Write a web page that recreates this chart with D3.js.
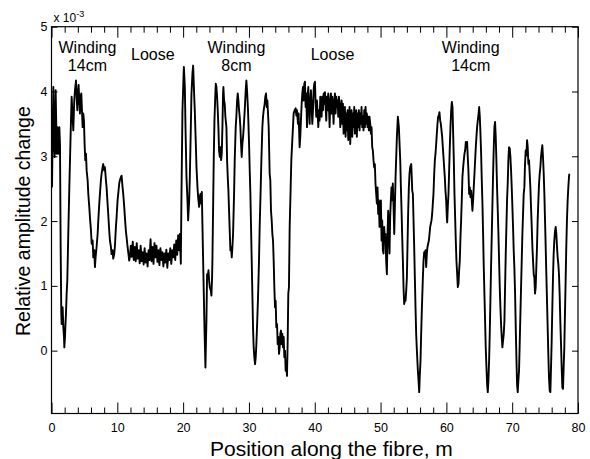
<!DOCTYPE html>
<html>
<head>
<meta charset="utf-8">
<script src="https://cdn.jsdelivr.net/npm/d3@7"></script>
<style>
body { margin: 0; background: #fff; }
text { font-family: "Liberation Sans", Arial, Helvetica, sans-serif; fill: #000; }
.tick line { stroke: #000; }
</style>
</head>
<body>
<div id="amplitude-chart"></div>
<script>
// measured trace, [position (m), amplitude change (x 1e-3)]
var winding14a = [[0.08,2.52],[0.18,3.45],[0.28,4.07],[0.38,3.19],[0.48,2.99],[0.58,3.71],[0.63,4.02],[0.73,3.45],[0.78,3.04],[0.89,3.45],[0.99,3.19],[1.04,3.04],[1.14,3.35],[1.19,3.45],[1.29,3.19],[1.39,1.60],[1.49,0.57],[1.54,0.41],[1.64,0.57],[1.69,0.67],[1.80,0.36],[1.90,0.21],[1.95,0.05],[2.05,0.21],[2.10,0.36],[2.20,0.57],[2.30,0.88],[2.40,1.08],[2.55,1.80],[2.71,2.52],[2.81,2.94],[2.96,3.55],[3.06,3.92],[3.16,3.71],[3.31,3.40],[3.46,3.86],[3.57,4.02],[3.72,4.17],[3.82,3.92],[3.92,3.71],[4.02,3.97],[4.12,4.10],[4.22,3.86],[4.32,3.66],[4.42,3.92],[4.53,3.97],[4.63,3.71],[4.73,3.45],[4.83,3.66],[4.93,3.55],[5.03,3.19],[5.13,2.94],[5.24,3.04],[5.34,2.78],[5.49,2.63],[5.59,2.42],[5.74,2.22],[5.84,2.06],[6.00,1.85],[6.10,1.65],[6.25,1.70],[6.35,1.44],[6.50,1.55],[6.60,1.29],[6.70,1.44],[6.85,1.60],[7.01,1.80],[7.11,2.01],[7.26,2.27],[7.36,2.42],[7.51,2.63],[7.61,2.73],[7.76,2.83],[7.86,2.88],[8.02,2.78],[8.12,2.83],[8.27,2.63],[8.37,2.52],[8.52,2.27],[8.62,2.11],[8.77,1.85],[8.88,1.70],[9.03,1.60],[9.13,1.49],[9.28,1.55],[9.38,1.42],[9.53,1.49],[9.63,1.60],[9.79,1.91],[9.89,2.06],[10.04,2.32],[10.14,2.42],[10.29,2.58],[10.39,2.63],[10.55,2.68],[10.65,2.70],[10.80,2.52],[10.90,2.42],[11.05,2.22],[11.15,2.06],[11.30,1.85],[11.41,1.75],[11.56,1.60],[11.66,1.52],[11.81,1.39],[11.91,1.44]];

var loose1 = [[12.05,1.62],[12.2,1.45],[12.35,1.68],[12.5,1.40],[12.65,1.60],[12.8,1.38],[12.95,1.66],[13.1,1.42],[13.25,1.55],[13.4,1.35],[13.55,1.62],[13.7,1.38],[13.85,1.52],[14.0,1.33],[14.15,1.58],[14.3,1.36],[14.45,1.50],[14.6,1.30],[14.75,1.55],[14.9,1.40],[15.05,1.72],[15.2,1.38],[15.35,1.60],[15.5,1.34],[15.65,1.66],[15.8,1.44],[15.95,1.62],[16.1,1.37],[16.25,1.55],[16.4,1.32],[16.55,1.58],[16.7,1.40],[16.85,1.52],[17.0,1.30],[17.15,1.50],[17.3,1.36],[17.45,1.56],[17.6,1.28],[17.75,1.50],[17.9,1.40],[18.05,1.58],[18.2,1.34],[18.35,1.55],[18.5,1.44],[18.65,1.64],[18.8,1.40],[18.95,1.70],[19.1,1.48],[19.25,1.78],[19.4,1.55],[19.5,1.80]];

var winding8 = [[19.65,1.34],[19.75,2.42],[19.90,3.71],[20.11,4.38],[20.26,4.07],[20.36,3.45],[20.51,2.68],[20.66,2.32],[20.76,2.01],[20.92,2.32],[21.02,2.68],[21.17,3.45],[21.27,3.97],[21.42,4.28],[21.52,4.40],[21.67,3.97],[21.77,3.71],[21.93,3.19],[22.03,2.83],[22.18,2.52],[22.28,2.37],[22.43,2.22],[22.53,2.37],[22.63,2.42],[22.74,2.27],[22.84,2.45],[22.94,1.91],[23.04,1.39],[23.14,0.88],[23.24,0.36],[23.34,-0.05],[23.39,-0.26],[23.54,0.46],[23.64,1.18],[23.74,1.13],[23.85,1.24],[23.95,1.08],[24.05,0.98],[24.20,0.93],[24.30,0.85],[24.40,1.13],[24.45,1.39],[24.55,2.16],[24.65,2.94],[24.76,3.55],[24.86,3.86],[24.96,4.12],[25.06,4.07],[25.16,3.92],[25.26,3.71],[25.36,3.45],[25.46,3.09],[25.57,2.99],[25.67,3.14],[25.77,2.94],[25.87,3.04],[25.97,3.45],[26.07,3.97],[26.12,4.07],[26.22,3.86],[26.32,3.81],[26.42,3.61],[26.58,3.45],[26.68,2.94],[26.78,2.68],[26.88,2.47],[26.98,2.16],[27.08,1.85],[27.18,1.55],[27.28,1.60],[27.39,1.44],[27.49,1.60],[27.59,1.80],[27.74,2.42],[27.84,2.94],[27.99,3.45],[28.09,3.61],[28.20,3.86],[28.30,3.97],[28.40,3.86],[28.50,3.71],[28.60,3.61],[28.70,3.45],[28.80,3.19],[28.90,2.99],[29.00,3.19],[29.11,3.30],[29.21,3.45],[29.36,3.71],[29.51,4.02],[29.61,4.17],[29.71,4.02],[29.86,3.71],[30.02,3.19],[30.12,2.78],[30.22,2.42],[30.37,1.65],[30.52,0.88],[30.62,0.36],[30.72,0.05],[30.82,-0.10],[30.93,-0.21],[31.03,-0.10],[31.13,0.10],[31.23,0.36],[31.38,0.82],[31.53,1.39],[31.63,1.91],[31.79,2.52],[31.89,2.94],[32.04,3.45],[32.14,3.61],[32.24,3.71],[32.39,3.81],[32.49,3.92],[32.60,3.97],[32.70,3.76],[32.80,3.86],[32.90,3.66],[33.00,3.45],[33.15,2.73],[33.25,2.63],[33.35,2.16],[33.46,2.01],[33.56,1.80],[33.66,1.70],[33.76,1.39],[33.86,0.98],[33.96,0.67],[34.06,0.77],[34.16,0.36],[34.27,0.41],[34.37,0.10],[34.47,0.21],[34.57,-0.05],[34.67,0.05],[34.77,0.26],[34.87,0.31],[34.97,0.10],[35.07,0.26],[35.18,0.05],[35.28,0.21],[35.38,-0.10],[35.48,0.00],[35.58,-0.31],[35.68,-0.21],[35.78,-0.39],[35.88,0.10],[35.98,0.88],[36.08,0.98],[36.19,1.91],[36.34,2.52],[36.44,2.94],[36.59,3.25],[36.69,3.45],[36.79,3.66],[36.94,3.71],[37.10,3.74],[37.20,3.63],[37.30,3.71],[37.45,3.50],[37.55,3.66]];

var loose2 = [[37.70,3.14],[37.80,3.30],[37.90,3.55],[38.01,3.81],[38.11,3.97],[38.21,4.07],[38.31,3.86],[38.41,4.12],[38.51,4.15],[38.61,3.76],[38.71,3.97],[38.82,3.45],[38.92,3.92],[39.02,4.07],[39.12,3.71],[39.22,3.50],[39.32,3.86],[39.42,4.02],[39.52,3.76],[39.63,3.50],[39.73,3.71],[39.83,4.02],[39.93,4.12],[40.03,4.15],[40.13,3.81],[40.23,3.61],[40.33,3.86],[40.44,3.66],[40.54,3.45],[40.64,3.71],[40.74,3.55],[40.84,3.92],[40.94,3.76],[41.04,3.61],[41.14,3.92],[41.25,3.71],[41.35,3.97],[41.45,3.81],[41.55,3.99],[41.65,3.76],[41.75,3.55],[41.85,3.92],[41.95,3.71],[42.05,3.97],[42.16,3.76],[42.26,3.45],[42.36,3.86],[42.46,3.97],[42.56,3.66],[42.66,3.92],[42.76,3.76],[42.86,3.50],[42.97,3.86],[43.07,3.97],[43.17,3.66],[43.27,3.92],[43.37,3.76],[43.47,3.86],[43.57,3.61],[43.67,3.92],[43.77,3.81],[43.88,3.45],[43.98,3.71],[44.08,3.86],[44.18,3.50],[44.28,3.81],[44.38,3.35],[44.48,3.61],[44.58,3.76],[44.69,3.30],[44.79,3.66],[44.89,3.40],[44.99,3.71],[45.09,3.25],[45.19,3.61],[45.29,3.76],[45.39,3.19],[45.49,3.55],[45.59,3.71],[45.70,3.30],[45.80,3.66],[45.90,3.45],[46.00,3.76],[46.10,3.35],[46.20,3.61],[46.30,3.71],[46.40,3.30],[46.50,3.66],[46.61,3.45],[46.71,3.71],[46.81,3.40],[46.91,3.66],[47.01,3.50],[47.11,3.76],[47.21,3.45],[47.31,3.61],[47.41,3.40],[47.52,3.71],[47.62,3.45],[47.72,3.76],[47.82,3.50],[47.92,3.66],[48.02,3.45],[48.12,3.61],[48.22,3.40],[48.32,3.61],[48.43,3.50],[48.53,3.35],[48.63,3.45]];

var winding14b = [[48.73,3.14],[48.83,3.09],[48.93,2.94],[49.03,2.83],[49.13,2.88],[49.23,2.58],[49.34,2.42],[49.44,2.27],[49.54,2.52],[49.64,2.11],[49.74,2.32],[49.84,1.91],[49.94,2.22],[50.05,2.32],[50.15,1.70],[50.25,2.01],[50.35,1.55],[50.45,1.50],[50.55,1.91],[50.65,1.70],[50.75,1.80],[50.85,1.39],[50.96,1.18],[51.06,1.80],[51.16,2.16],[51.26,1.80],[51.36,1.50],[51.46,2.06],[51.56,2.32],[51.66,2.52],[51.76,2.32],[51.86,2.58],[51.96,2.27],[52.08,1.80],[52.28,2.68],[52.48,3.30],[52.63,3.61],[52.78,3.45],[52.99,2.94],[53.09,2.52],[53.19,2.16],[53.29,1.75],[53.39,1.39],[53.49,0.98],[53.59,0.72],[53.69,0.77],[53.80,0.77],[53.90,0.93],[54.00,1.13],[54.10,1.65],[54.20,2.16],[54.30,2.52],[54.40,2.73],[54.50,2.83],[54.66,2.88],[54.76,2.63],[54.81,2.47],[54.91,2.42],[55.01,2.01],[55.11,1.60],[55.21,1.13],[55.31,0.67],[55.41,0.26],[55.52,0.00],[55.67,-0.31],[55.77,-0.46],[55.87,-0.64],[55.97,-0.36],[56.07,-0.16],[56.17,0.26],[56.27,0.62],[56.43,1.13],[56.53,1.39],[56.63,1.52],[56.73,1.49],[56.83,1.55],[56.93,1.29],[57.03,1.49],[57.13,1.60],[57.23,1.65],[57.34,1.70],[57.44,1.80],[57.54,1.91],[57.64,1.96],[57.74,2.01],[57.84,2.11],[57.94,2.27],[58.04,2.42],[58.15,2.73],[58.25,2.94],[58.35,3.04],[58.45,3.19],[58.55,3.35],[58.65,3.50],[58.75,3.61],[58.85,3.63],[58.95,3.68],[59.06,3.55],[59.16,3.50],[59.26,3.40],[59.36,3.30],[59.46,3.14],[59.56,2.99],[59.66,2.83],[59.76,2.68],[59.86,2.47],[59.97,2.32],[60.07,2.06],[60.12,1.98],[60.22,2.22],[60.32,2.42],[60.42,2.78],[60.52,3.14],[60.62,3.45],[60.73,3.71],[60.83,3.84],[60.93,3.76],[61.03,3.35],[61.13,2.94],[61.23,2.42],[61.33,2.06],[61.43,1.70],[61.53,1.39],[61.64,1.18],[61.74,0.98],[61.84,1.03],[61.94,1.24],[62.04,1.39],[62.14,1.75],[62.24,2.01],[62.34,2.32],[62.44,2.68],[62.55,2.83],[62.65,2.94],[62.75,3.04],[62.85,3.09],[62.95,3.22],[63.05,3.14],[63.15,3.22],[63.25,2.99],[63.35,2.78],[63.46,2.42],[63.56,2.52],[63.66,2.37],[63.76,2.47],[63.86,2.32],[63.96,2.16],[64.06,2.32],[64.16,2.52],[64.27,2.73],[64.37,2.94],[64.47,3.14],[64.57,3.30],[64.67,3.45],[64.77,3.55],[64.87,3.63],[64.98,3.76],[65.08,3.61],[65.18,3.35],[65.28,3.04],[65.38,2.63],[65.48,2.27],[65.58,1.80],[65.68,1.29],[65.78,0.88],[65.88,0.47],[65.98,0.05],[66.09,-0.26],[66.19,-0.52],[66.29,-0.64],[66.39,-0.46],[66.49,-0.16],[66.59,0.26],[66.69,0.77],[66.79,1.29],[66.90,1.80],[67.00,2.27],[67.10,2.73],[67.20,3.14],[67.30,3.45],[67.40,3.53],[67.50,3.30],[67.60,2.94],[67.70,2.52],[67.81,2.16],[67.91,1.80],[68.01,1.39],[68.11,0.98],[68.21,0.67],[68.31,0.41],[68.41,0.21],[68.51,0.05],[68.61,0.15],[68.72,0.26],[68.82,0.46],[68.92,0.98],[69.02,1.49],[69.12,1.91],[69.22,2.32],[69.32,2.58],[69.42,2.94],[69.52,3.14],[69.63,3.12],[69.73,2.99],[69.83,2.78],[69.93,2.52],[70.03,2.22],[70.13,1.91],[70.23,1.55],[70.33,1.29],[70.44,0.88],[70.54,0.36],[70.64,-0.10],[70.74,-0.52],[70.84,-0.64],[70.94,-0.46],[71.04,-0.31],[71.14,0.10],[71.25,0.57],[71.35,0.98],[71.45,1.39],[71.55,1.80],[71.65,2.11],[71.75,2.42],[71.85,2.52],[71.95,2.88],[72.05,3.09],[72.16,3.01],[72.26,3.25],[72.36,3.14],[72.46,2.88],[72.56,2.94],[72.66,2.73],[72.76,2.52],[72.86,2.22],[72.97,1.91],[73.07,1.60],[73.17,1.39],[73.27,1.18],[73.37,1.13],[73.47,0.88],[73.57,0.98],[73.67,1.29],[73.77,1.60],[73.87,2.01],[73.98,2.32],[74.08,2.58],[74.18,2.73],[74.28,2.83],[74.38,2.99],[74.48,3.09],[74.58,3.17],[74.68,2.99],[74.79,2.73],[74.89,2.42],[74.99,2.01],[75.09,1.60],[75.19,1.18],[75.29,0.77],[75.39,0.36],[75.49,-0.05],[75.59,-0.41],[75.70,-0.62],[75.80,-0.64],[75.90,-0.26],[76.00,0.15],[76.10,0.67],[76.20,1.13],[76.30,1.49],[76.40,1.70],[76.51,1.85],[76.61,1.91],[76.71,1.80],[76.81,1.60],[76.91,1.44],[77.01,1.34],[77.11,1.18],[77.21,0.88],[77.31,0.46],[77.42,0.10],[77.52,-0.26],[77.62,-0.57],[77.72,-0.59],[77.82,-0.26],[77.92,0.05],[78.02,0.57],[78.12,1.08],[78.22,1.60],[78.32,2.01],[78.43,2.32],[78.53,2.52],[78.63,2.68],[78.68,2.73]];

var xTicks = [0, 10, 20, 30, 40, 50, 60, 70, 80];
var xMinorTicks = [2, 4, 6, 8, 12, 14, 16, 18, 22, 24, 26, 28, 32, 34, 36, 38, 42, 44, 46, 48, 52, 54, 56, 58, 62, 64, 66, 68, 72, 74, 76, 78];
var yTicks = [0, 1, 2, 3, 4, 5];

// section labels: text lines and the position (m) they are centred on
var sectionLines = [["Winding", "14cm"], ["Loose"], ["Winding", "8cm"], ["Loose"], ["Winding", "14cm"]];
var sectionCentres = [5.46, 15.4, 28.1, 42.7, 63.7];

/**
 * Constructor for the amplitude chart
 */
function AmplitudeChart() {
    var self = this;
    self.init();
}

AmplitudeChart.prototype.init = function () {
    var self = this;
    self.svgWidth = 590;
    self.svgHeight = 459;
    self.box = {left: 51.5, right: 578, top: 26.7, bottom: 413.5};

    self.svg = d3.select("#amplitude-chart").append("svg")
        .attr("width", self.svgWidth)
        .attr("height", self.svgHeight);

    self.x = d3.scaleLinear().domain([0, 80]).range([self.box.left, self.box.right]);
    self.y = d3.scaleLinear().domain([-0.97, 5]).range([self.box.bottom, self.box.top]);
};

AmplitudeChart.prototype.drawAxes = function () {
    var self = this;
    var x = self.x, y = self.y, b = self.box;

    // bottom, ticks pointing in
    var bottom = self.svg.append("g")
        .attr("transform", "translate(0," + b.bottom + ")")
        .call(d3.axisBottom(x).tickValues(xTicks).tickSize(-11).tickPadding(10).tickFormat(d3.format("d")));
    bottom.selectAll("text").style("font-size", "12.5px");
    self.svg.append("g")
        .attr("transform", "translate(0," + b.bottom + ")")
        .call(d3.axisBottom(x).tickValues(xMinorTicks).tickSize(-6).tickFormat(""));

    // top mirror
    self.svg.append("g")
        .attr("transform", "translate(0," + b.top + ")")
        .call(d3.axisBottom(x).tickValues(xTicks).tickSize(11).tickFormat(""));
    self.svg.append("g")
        .attr("transform", "translate(0," + b.top + ")")
        .call(d3.axisBottom(x).tickValues(xMinorTicks).tickSize(6).tickFormat(""));

    var left = self.svg.append("g")
        .attr("transform", "translate(" + b.left + ",0)")
        .call(d3.axisLeft(y).tickValues(yTicks).tickSize(-6).tickPadding(4).tickFormat(d3.format("d")));
    left.selectAll("text").style("font-size", "12.5px");

    self.svg.append("g")
        .attr("transform", "translate(" + b.right + ",0)")
        .call(d3.axisLeft(y).tickValues(yTicks).tickSize(6).tickFormat(""));

    self.svg.selectAll(".domain").remove();
    self.svg.selectAll(".tick text").attr("font-family", null);

    self.svg.append("rect")
        .attr("x", b.left)
        .attr("y", b.top)
        .attr("width", b.right - b.left)
        .attr("height", b.bottom - b.top)
        .style("fill", "none")
        .style("stroke", "#000")
        .style("stroke-width", 1.2);

    // exponent note
    var expo = self.svg.append("text")
        .attr("x", b.left + 2)
        .attr("y", b.top - 5)
        .style("font-size", "12px");
    expo.append("tspan").text("x 10");
    expo.append("tspan").attr("dy", -5).style("font-size", "9px").text("-3");

    self.svg.append("text")
        .attr("x", 210)
        .attr("y", 456)
        .style("font-size", "21px")
        .text("Position along the fibre, m");

    self.svg.append("text")
        .attr("transform", "translate(30," + ((b.top + b.bottom) / 2 + 1) + ") rotate(-90)")
        .attr("text-anchor", "middle")
        .style("font-size", "19.5px")
        .text("Relative amplitude change");
};

AmplitudeChart.prototype.update = function () {
    var self = this;
    var trace = [].concat(winding14a, loose1, winding8, loose2, winding14b);

    var line = d3.line()
        .x(function (d) { return self.x(d[0]); })
        .y(function (d) { return self.y(d[1]); });

    self.svg.append("path")
        .datum(trace)
        .attr("d", line)
        .style("fill", "none")
        .style("stroke", "#000")
        .style("stroke-width", 1.9)
        .style("stroke-linejoin", "round");

    // section notes along the top, one text per line, stacked tight
    sectionLines.forEach(function (lines, i) {
        lines.forEach(function (s, j) {
            self.svg.append("text")
                .attr("x", self.x(sectionCentres[i]))
                .attr("y", lines.length > 1 ? 53 + j * 18 : 60)
                .attr("text-anchor", "middle")
                .style("font-size", "16px")
                .text(s);
        });
    });
};

var chart = new AmplitudeChart();
chart.drawAxes();
chart.update();
</script>
</body>
</html>
